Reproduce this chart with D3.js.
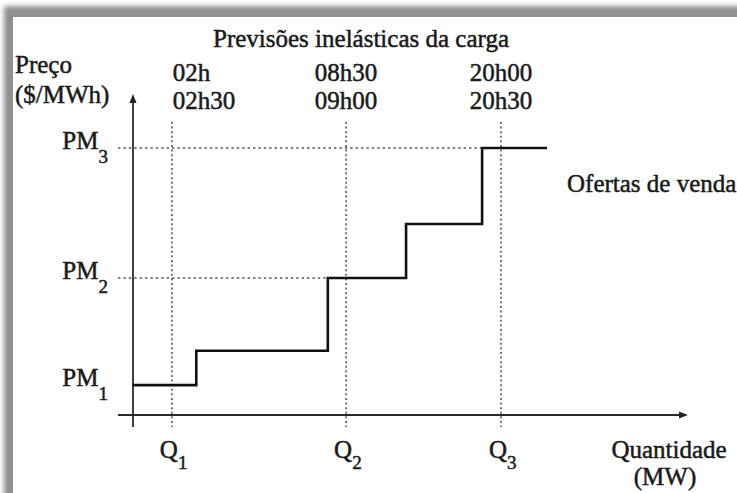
<!DOCTYPE html>
<html>
<head>
<meta charset="utf-8">
<script src="https://cdn.jsdelivr.net/npm/d3@7"></script>
<style>
  body { margin: 0; background: #fff; }
</style>
</head>
<body>
<svg id="svg" width="737" height="493"></svg>
<script>
// offer curve: quantity breakpoints and price of each step
let offerQ = [0, 11.4, 35.1, 49.2, 62.9, 74.6];
let offerP = [9.3, 20, 42.7, 59.5, 83.2, 83.2];

// market prices on the price axis
let pmLabels = ['1', '2', '3'];
let pmValues = [9.3, 42.7, 83.2];
let pmGuideTo = [0, 35.1, 62.9];

// inelastic load forecasts
let qLabels = ['1', '2', '3'];
let qValues = [7.0, 38.4, 66.3];
let hourTop = ['02h', '08h30', '20h00'];
let hourBottom = ['02h30', '09h00', '20h30'];

let svg = d3.select('#svg');
let fontSize = 25;

function label(sel) {
  return sel.style('font-family', 'Liberation Serif')
    .style('font-size', fontSize + 'px')
    .attr('fill', '#1a1a1a')
    .attr('stroke', '#1a1a1a')
    .attr('stroke-width', 0.5);
}

// scanned-page frame with soft shadow on top / left
let defs = svg.append('defs');
defs.append('filter')
  .attr('id', 'blur')
  .attr('x', '-5%').attr('y', '-5%').attr('width', '110%').attr('height', '110%')
  .append('feGaussianBlur')
  .attr('stdDeviation', 2.5);

svg.append('rect')
  .attr('x', 4).attr('y', 6)
  .attr('width', 800).attr('height', 600)
  .attr('fill', '#8f8f8f')
  .attr('filter', 'url(#blur)');
svg.append('rect')
  .attr('x', 13).attr('y', 17)
  .attr('width', 800).attr('height', 600)
  .attr('fill', '#fff');

let x = d3.scaleLinear().domain([0, 100]).range([133, 688]);
let y = d3.scaleLinear().domain([0, 100]).range([415, 94]);

let g = svg.append('g');

// dotted guides for the load forecasts
g.selectAll('line.qguide')
  .data(qValues)
  .enter()
  .append('line')
  .attr('class', 'qguide')
  .attr('x1', d => x(d)).attr('x2', d => x(d))
  .attr('y1', y(91.3)).attr('y2', y(-3.7))
  .attr('stroke', '#555')
  .attr('stroke-width', 1.6)
  .attr('stroke-dasharray', '2,2.6');

// dotted guides for the prices
g.selectAll('line.pguide')
  .data(pmValues.map((d, i) => [d, pmGuideTo[i]]).filter(d => d[1] > 0))
  .enter()
  .append('line')
  .attr('class', 'pguide')
  .attr('x1', x(-2.7)).attr('x2', d => x(d[1]))
  .attr('y1', d => y(d[0])).attr('y2', d => y(d[0]))
  .attr('stroke', '#555')
  .attr('stroke-width', 1.6)
  .attr('stroke-dasharray', '2.4,3');

// axes
g.append('line')
  .attr('x1', x(0)).attr('x2', x(0))
  .attr('y1', y(-3.7)).attr('y2', y(98))
  .attr('stroke', '#2a2a2a').attr('stroke-width', 1.8);
g.append('line')
  .attr('x1', x(-2.7)).attr('x2', x(98.5))
  .attr('y1', y(0)).attr('y2', y(0))
  .attr('stroke', '#2a2a2a').attr('stroke-width', 1.8);

g.append('path')
  .attr('d', `M${x(0)},${y(100)} L${x(0) - 3.5},${y(100) + 9} L${x(0) + 3.5},${y(100) + 9} Z`)
  .attr('fill', '#222');
g.append('path')
  .attr('d', `M${x(100)},${y(0)} L${x(100) - 9},${y(0) - 3.5} L${x(100) - 9},${y(0) + 3.5} Z`)
  .attr('fill', '#222');

// offer steps
let stepLine = d3.line()
  .x(d => x(d[0]))
  .y(d => y(d[1]))
  .curve(d3.curveStepAfter);

g.append('path')
  .datum(offerQ.map((q, i) => [q, offerP[i]]))
  .attr('d', stepLine)
  .attr('fill', 'none')
  .attr('stroke', '#111')
  .attr('stroke-width', 2.6);

// texts
label(svg.append('text'))
  .attr('x', 361).attr('y', 47)
  .attr('text-anchor', 'middle')
  .text('Previsões inelásticas da carga');

label(svg.append('text'))
  .attr('x', 15).attr('y', 73)
  .text('Preço');
label(svg.append('text'))
  .attr('x', 15).attr('y', 103)
  .text('($/MWh)');

[hourTop, hourBottom].forEach((row, r) => {
  label(svg.selectAll('text.hour' + r)
    .data(row)
    .enter()
    .append('text'))
    .attr('class', 'hour' + r)
    .attr('x', (d, i) => i === 0 ? x(qValues[i]) + 1 : x(qValues[i]))
    .attr('y', 81 + r * 28)
    .attr('text-anchor', (d, i) => i === 0 ? 'start' : 'middle')
    .text(d => d);
});

let pm = label(svg.selectAll('text.pm')
  .data(pmValues)
  .enter()
  .append('text'))
  .attr('class', 'pm')
  .attr('x', 108)
  .attr('y', d => y(d) + 1)
  .attr('text-anchor', 'end');
pm.append('tspan').text('PM');
pm.append('tspan')
  .style('font-size', '19px')
  .attr('dy', 14)
  .text((d, i) => pmLabels[i]);

let ql = label(svg.selectAll('text.q')
  .data(qValues)
  .enter()
  .append('text'))
  .attr('class', 'q')
  .attr('x', d => x(d) - 12)
  .attr('y', 458);
ql.append('tspan').text('Q');
ql.append('tspan')
  .style('font-size', '19px')
  .attr('dy', 11)
  .text((d, i) => qLabels[i]);

label(svg.append('text'))
  .attr('x', 567).attr('y', 192)
  .text('Ofertas de venda');

label(svg.append('text'))
  .attr('x', 669).attr('y', 458)
  .attr('text-anchor', 'middle')
  .text('Quantidade');
label(svg.append('text'))
  .attr('x', 665).attr('y', 485)
  .attr('text-anchor', 'middle')
  .text('(MW)');
</script>
</body>
</html>
